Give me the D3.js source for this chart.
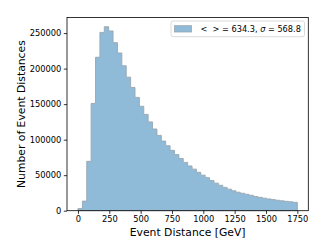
<!DOCTYPE html>
<html>
<head>
<meta charset="utf-8">
<script src="https://cdn.jsdelivr.net/npm/d3@7"></script>
<style>
  html, body { margin: 0; padding: 0; background: #fff; }
  svg { display: block; }
  text { font-family: "DejaVu Sans", sans-serif; fill: #000; }
</style>
</head>
<body>
<svg id="chart" width="332" height="249"></svg>
<script>
// ---- data ----
const binStart = 0;
const binWidth = 35;
const counts = [
  3000, 13500, 69500, 151000, 216000, 251000, 259000, 253000, 236500, 222000,
  204000, 188000, 173500, 159500, 147000, 135500, 125000, 115000, 106000, 98000,
  91500, 85000, 79000, 73500, 68000, 63000, 58500, 54000, 50000, 46500,
  42500, 38800, 35800, 32800, 30300, 28000, 26000, 24500, 23100, 21700,
  20000, 18800, 17700, 16600, 15600, 14700, 13900, 13200, 12500, 11800
];
const xTicks = [0, 250, 500, 750, 1000, 1250, 1500, 1750];
const yTicks = [0, 50000, 100000, 150000, 200000, 250000];
const legendParts = [
  { t: "<  > = 634.3, ", italic: false },
  { t: "σ", italic: true },
  { t: " = 568.8", italic: false }
];
const xLabel = "Event Distance [GeV]";
const yLabel = "Number of Event Distances";

// ---- layout ----
const svg = d3.select("#chart");
const L = 67, R = 308.3, T = 17.5, B = 210.7;
const xMax = binStart + binWidth * counts.length;
const xPad = 0.05 * (xMax - binStart);
const x = d3.scaleLinear().domain([binStart - xPad, xMax + xPad]).range([L, R]);
const y = d3.scaleLinear().domain([0, d3.max(counts) * 1.05]).range([B, T]);

// histogram step path
const pts = [];
pts.push([binStart, 0]);
counts.forEach((c, i) => {
  pts.push([binStart + i * binWidth, c]);
  pts.push([binStart + (i + 1) * binWidth, c]);
});
pts.push([xMax, 0]);
const line = d3.line().x(d => x(d[0])).y(d => y(d[1]));
svg.append("path")
  .attr("d", line(pts) + "Z")
  .attr("fill", "#8fbbd9")
  .attr("stroke", "#9aa6b0")
  .attr("stroke-width", 0.9);

// axes
const xAxis = d3.axisBottom(x).tickValues(xTicks).tickSize(3.2).tickPadding(2.5).tickFormat(d3.format("d"));
const yAxis = d3.axisLeft(y).tickValues(yTicks).tickSize(3.2).tickPadding(2.5).tickFormat(d3.format("d"));
const gx = svg.append("g").attr("transform", `translate(0,${B})`).call(xAxis);
const gy = svg.append("g").attr("transform", `translate(${L},0)`).call(yAxis);
[gx, gy].forEach(g => {
  g.select(".domain").remove();
  g.selectAll("line").attr("stroke", "#000").attr("stroke-width", 0.8);
  g.selectAll("text").style("font-family", "DejaVu Sans").style("font-size", "8.3px").attr("fill", "#000");
});

// frame
svg.append("rect")
  .attr("x", L).attr("y", T).attr("width", R - L).attr("height", B - T)
  .attr("fill", "none").attr("stroke", "#000").attr("stroke-width", 0.8);

// axis labels
svg.append("text")
  .attr("x", (L + R) / 2).attr("y", 236)
  .attr("text-anchor", "middle")
  .style("font-size", "10.8px")
  .text(xLabel);
svg.append("text")
  .attr("transform", `translate(24.5,${(T + B) / 2}) rotate(-90)`)
  .attr("text-anchor", "middle")
  .style("font-size", "10.8px")
  .text(yLabel);

// legend
const lg = svg.append("g");
lg.append("rect")
  .attr("x", 171).attr("y", 21).attr("width", 133.5).attr("height", 15.7)
  .attr("rx", 2).attr("fill", "#fff").attr("fill-opacity", 0.8)
  .attr("stroke", "#d0d0d0").attr("stroke-width", 0.8);
lg.append("rect")
  .attr("x", 174.5).attr("y", 25.7).attr("width", 17).attr("height", 6.3)
  .attr("fill", "#8fbbd9").attr("stroke", "#9aa6b0").attr("stroke-width", 0.8);
const lt = lg.append("text")
  .attr("x", 200.5).attr("y", 31.8)
  .style("font-size", "8.2px")
  .attr("xml:space", "preserve");
legendParts.forEach(p => {
  lt.append("tspan").style("font-style", p.italic ? "italic" : "normal").text(p.t);
});
</script>
</body>
</html>
